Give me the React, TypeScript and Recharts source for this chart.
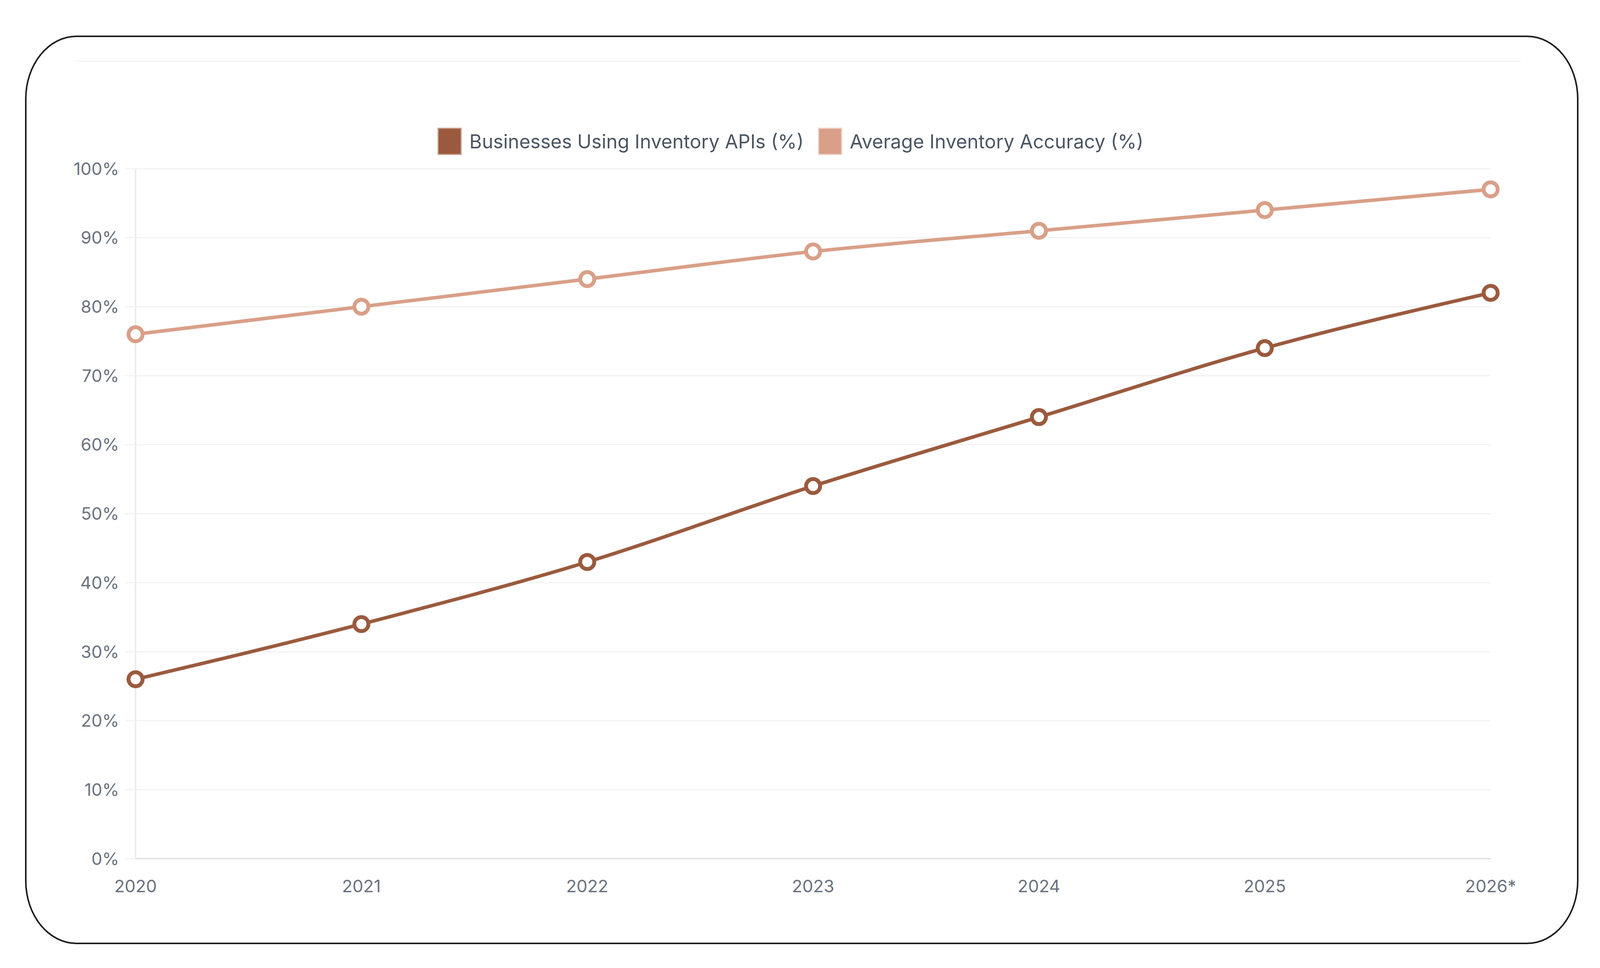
import React from 'react';
import { LineChart, Line, XAxis, YAxis, CartesianGrid, Legend } from 'recharts';

const years = ['2020', '2021', '2022', '2023', '2024', '2025', '2026*'];
const businessesUsingApis = [26, 34, 43, 54, 64, 74, 82];
const averageAccuracy = [76, 80, 84, 88, 91, 94, 97];
const yTicks = [0, 10, 20, 30, 40, 50, 60, 70, 80, 90, 100];

const SERIES_A = 'Businesses Using Inventory APIs (%)';
const SERIES_B = 'Average Inventory Accuracy (%)';
const COLOR_A = '#9b5a3e';
const COLOR_B = '#d99f88';
const legendItems = [
  { name: SERIES_A, color: COLOR_A, border: '#c9a192' },
  { name: SERIES_B, color: COLOR_B, border: '#efcfc2' },
];

const data = years.map((y, i) => ({
  year: y,
  a: businessesUsingApis[i],
  b: averageAccuracy[i],
}));

const FONT = 'Inter, "Noto Sans", sans-serif';

const renderLegend = () => (
  <div style={{ height: 120, boxSizing: 'border-box', paddingLeft: 40 }}>
    <div
      style={{
        height: 100,
        display: 'flex',
        justifyContent: 'center',
        alignItems: 'center',
        fontFamily: FONT,
      }}
    >
      {legendItems.map((entry, idx) => (
        <div
          key={idx}
          style={{ display: 'flex', alignItems: 'center', marginLeft: idx === 0 ? 0 : 36 }}
        >
          <div
            style={{
              width: 62,
              height: 70,
              boxSizing: 'border-box',
              background: entry.color,
              border: `3px solid ${entry.border}`,
              marginRight: 20,
            }}
          />
          <span style={{ fontSize: 49, color: '#4b5563', lineHeight: 1 }}>{entry.name}</span>
        </div>
      ))}
    </div>
  </div>
);

export default function App() {
  const T = 262;
  return (
    <div
      style={{
        position: 'absolute',
        left: 0,
        top: 0,
        width: 4096,
        height: 2479,
        background: '#ffffff',
        overflow: 'hidden',
      }}
    >
      <div
        style={{
          position: 'absolute',
          left: 64,
          top: 91,
          width: 3977,
          height: 2327,
          border: '4px solid #1e1e1e',
          borderRadius: '132px / 162px',
          boxSizing: 'border-box',
        }}
      />
      <div
        style={{
          position: 'absolute',
          left: 191,
          top: 155,
          width: 3702,
          height: 3,
          background: '#f3f4f6',
        }}
      />
      <div style={{ position: 'absolute', left: 151, top: T }}>
        <LineChart
          width={3742}
          height={2199 + 120 - T}
          data={data}
          margin={{ top: 50, right: 77, bottom: 0, left: 40 }}
        >
          <CartesianGrid vertical={false} stroke="#f2f2f3" strokeWidth={3} />
          <XAxis
            dataKey="year"
            padding={{ left: 0, right: 0 }}
            height={120}
            tickLine={false}
            tickSize={0}
            tickMargin={55}
            axisLine={{ stroke: '#dcdde0', strokeWidth: 3 }}
            tick={{ fill: '#6b7280', fontSize: 44, fontFamily: FONT }}
            interval={0}
          />
          <YAxis
            domain={[0, 100]}
            ticks={yTicks}
            width={156}
            tickSize={27}
            tickMargin={15}
            tickLine={{ stroke: '#f2f2f3', strokeWidth: 3 }}
            axisLine={{ stroke: '#e6e7e9', strokeWidth: 3 }}
            tick={{ fill: '#6b7280', fontSize: 44, fontFamily: FONT }}
            tickFormatter={(v: number) => `${v}%`}
            interval={0}
          />
          <Legend verticalAlign="top" align="center" content={renderLegend} />
          <Line
            type="monotone"
            dataKey="a"
            name={SERIES_A}
            stroke={COLOR_A}
            strokeWidth={9}
            dot={{ r: 18, fill: '#ffffff', stroke: COLOR_A, strokeWidth: 10 }}
            activeDot={false}
            isAnimationActive={false}
          />
          <Line
            type="monotone"
            dataKey="b"
            name={SERIES_B}
            stroke={COLOR_B}
            strokeWidth={9}
            dot={{ r: 18, fill: '#ffffff', stroke: COLOR_B, strokeWidth: 10 }}
            activeDot={false}
            isAnimationActive={false}
          />
        </LineChart>
      </div>
    </div>
  );
}
